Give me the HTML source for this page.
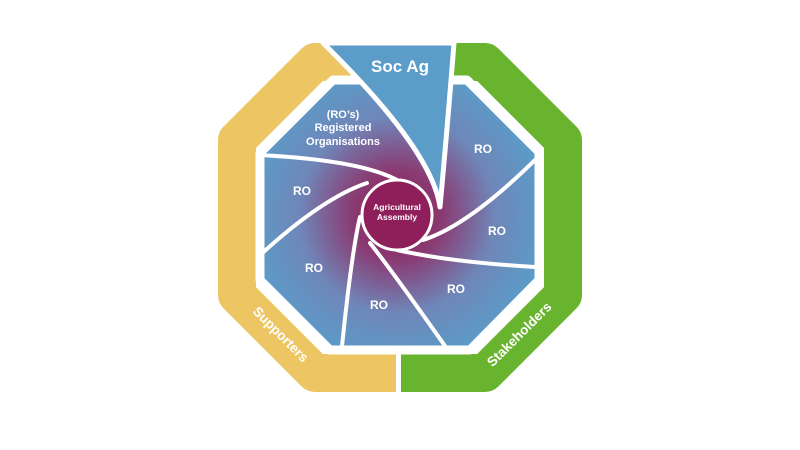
<!DOCTYPE html>
<html><head><meta charset="utf-8"><style>
html,body{margin:0;padding:0;background:#fff;width:800px;height:450px;overflow:hidden}
svg{display:block}
text{font-family:"Liberation Sans",sans-serif;font-weight:bold;fill:#fff}
</style></head><body>
<svg width="800" height="450" viewBox="0 0 800 450">
<defs>
<radialGradient id="g" cx="397" cy="215" r="150" gradientUnits="userSpaceOnUse">
<stop offset="0" stop-color="#8e1f5b"/>
<stop offset="0.3" stop-color="#8a3a72"/>
<stop offset="0.65" stop-color="#6f86b8"/>
<stop offset="1" stop-color="#5b9cc8"/>
</radialGradient>
<clipPath id="cl"><rect x="0" y="0" width="396" height="450"/></clipPath>
<clipPath id="cr"><rect x="401" y="0" width="400" height="450"/></clipPath>
</defs>
<g fill="none" stroke-width="38" stroke-linejoin="round">
<path clip-path="url(#cl)" stroke="#edc563" d="M315 62 L485 62 L563 140 L563 295 L485 373 L315 373 L237 295 L237 140 Z"/>
<path clip-path="url(#cr)" stroke="#69b42e" d="M315 62 L485 62 L563 140 L563 295 L485 373 L315 373 L237 295 L237 140 Z"/>
</g>
<path d="M333 80 L467 80 L539 152 L539 280 L470 350 L330 350 L260 280 L260 153 Z" fill="url(#g)" stroke="#fff" stroke-width="9" stroke-linejoin="round"/>
<path d="M323 43 L454 43 Q448 120 440 207 Q432 150 323 43 Z" fill="#5b9cc8" stroke="#fff" stroke-width="5" stroke-linejoin="round"/>
<g fill="none" stroke="#fff" stroke-width="4" stroke-linecap="round">
<path d="M540 155 Q470 225 423 240"/>
<path d="M535 267 Q450 262 397 250"/>
<path d="M445 346 Q395 275 370 243"/>
<path d="M342 346 Q352 250 360 217"/>
<path d="M258 257 Q322 198 367 183"/>
<path d="M258 155 Q360 160 397 180"/>
</g>
<circle cx="397" cy="215" r="35" fill="#8e1f5b" stroke="#fff" stroke-width="3"/>
<text x="397" y="210" font-size="8.5" text-anchor="middle">Agricultural</text>
<text x="397" y="220" font-size="8.5" text-anchor="middle">Assembly</text>
<text x="400" y="72" font-size="17" text-anchor="middle">Soc Ag</text>
<text x="343" y="118" font-size="11" text-anchor="middle">(RO’s)</text>
<text x="343" y="131" font-size="11" text-anchor="middle">Registered</text>
<text x="343" y="145" font-size="11" text-anchor="middle">Organisations</text>
<text x="483" y="153" font-size="12" text-anchor="middle">RO</text>
<text x="497" y="235" font-size="12" text-anchor="middle">RO</text>
<text x="456" y="293" font-size="12" text-anchor="middle">RO</text>
<text x="379" y="309" font-size="12" text-anchor="middle">RO</text>
<text x="314" y="272" font-size="12" text-anchor="middle">RO</text>
<text x="302" y="195" font-size="12" text-anchor="middle">RO</text>
<text x="0" y="0" font-size="13.5" text-anchor="middle" dominant-baseline="middle" transform="translate(280,335) rotate(45)">Supporters</text>
<text x="0" y="0" font-size="13.5" text-anchor="middle" dominant-baseline="middle" transform="translate(520,335) rotate(-45)">Stakeholders</text>
</svg>
</body></html>
